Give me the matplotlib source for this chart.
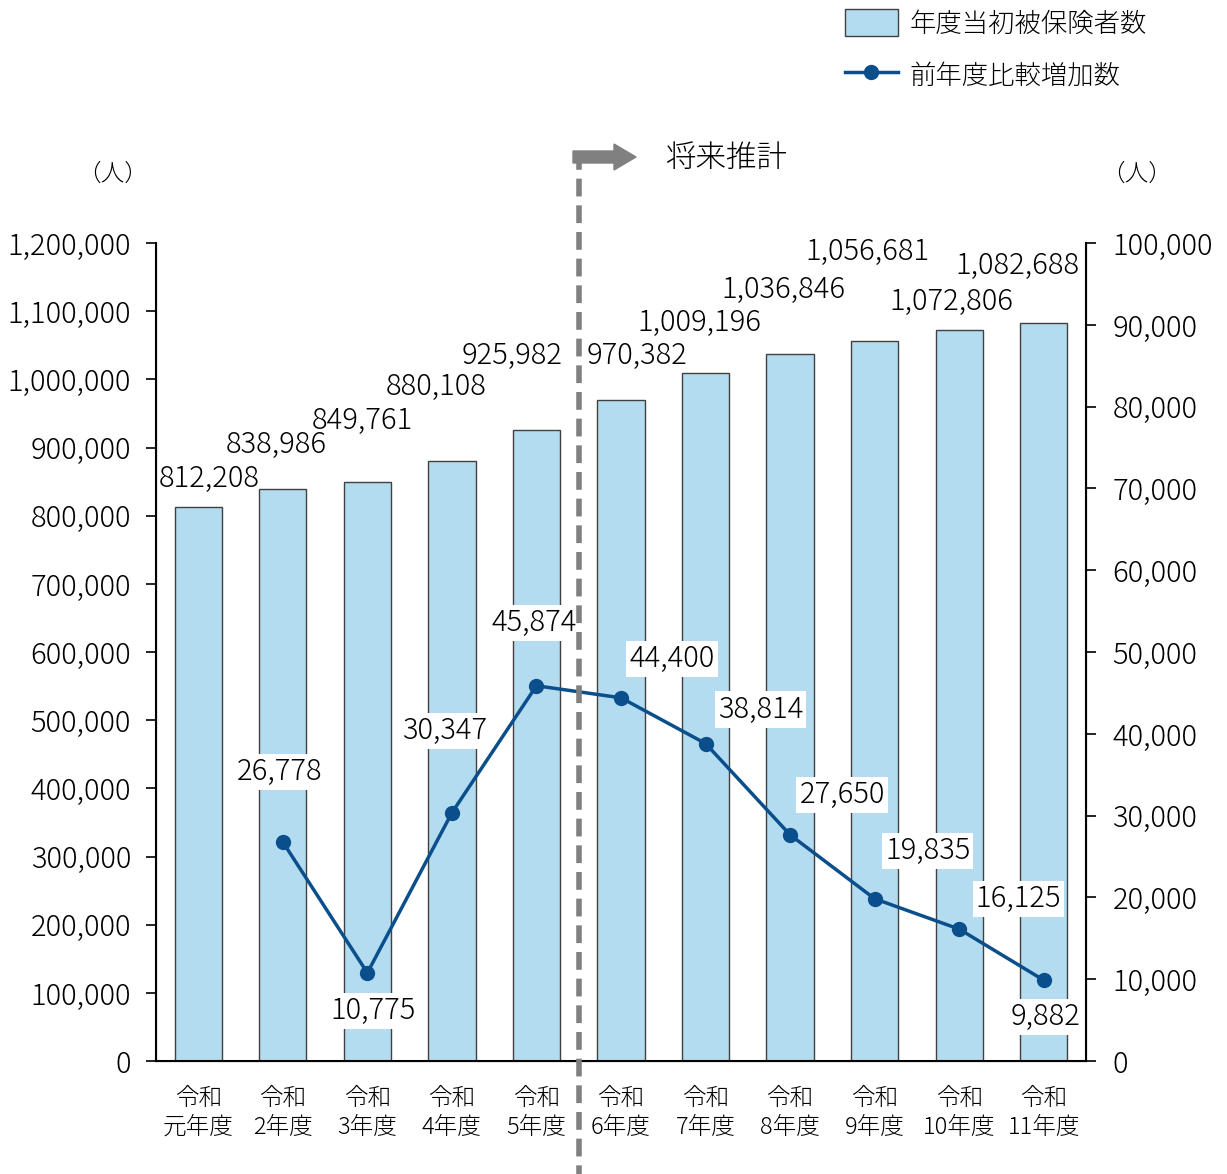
import matplotlib
matplotlib.use('Agg')
import matplotlib.pyplot as plt
from matplotlib.patches import FancyArrow, Patch
from matplotlib.lines import Line2D
from matplotlib.transforms import IdentityTransform

plt.rcParams['font.family'] = ['Noto Sans CJK JP', 'DejaVu Sans']
plt.rcParams['font.weight'] = 'light'

# data
years = ['令和\n元年度', '令和\n2年度', '令和\n3年度', '令和\n4年度', '令和\n5年度', '令和\n6年度',
         '令和\n7年度', '令和\n8年度', '令和\n9年度', '令和\n10年度', '令和\n11年度']
insured = [812208, 838986, 849761, 880108, 925982, 970382,
           1009196, 1036846, 1056681, 1072806, 1082688]
increase = [None, 26778, 10775, 30347, 45874, 44400, 38814, 27650, 19835, 16125, 9882]

# label offsets in pixels (hand placed like the original)
bar_lbl_off = [(11, 29), (-7, 44), (-5, 61), (-16, 74), (-24, 74), (16, 44),
               (-6, 50), (-7, 64), (-7, 89), (-8, 28), (-26, 57)]
line_lbl_off = [None, (-3, 70), (6, -38), (-7, 82), (-2, 63), (51, 39),
                (55, 34), (52, 40), (53, 48), (59, 30), (2, -37)]

bar_color = '#B4DCF0'
line_color = '#0A4F8C'
fs = 21

fig = plt.figure(figsize=(12.27, 11.74), dpi=100)
ax = fig.add_axes([156 / 1227, 1 - 1061 / 1174, 930 / 1227, 818 / 1174])
ax2 = ax.twinx()

x = list(range(len(years)))
ax.bar(x, insured, width=0.56, color=bar_color, edgecolor='#404040', linewidth=1.0, zorder=2)
ax.set_xlim(-0.5, len(years) - 0.5)
ax.set_ylim(0, 1200000)
ax.set_yticks(range(0, 1200001, 100000))
ax.set_yticklabels([f'{v:,}' for v in range(0, 1200001, 100000)])
ax.set_xticks(x)
ax.set_xticklabels(years, linespacing=1.2)
ax.tick_params(axis='x', length=0, pad=18, labelsize=17)
ax.tick_params(axis='y', length=7, width=1.2, direction='out', pad=11, labelsize=fs)
ax.spines['top'].set_visible(False)
for s in ['left', 'bottom']:
    ax.spines[s].set_linewidth(1.5)

for i, v in enumerate(insured):
    dx, dy = bar_lbl_off[i]
    ax.annotate(f'{v:,}', (i, v), xytext=(dx, dy), textcoords='offset pixels',
                ha='center', va='center', fontsize=fs, zorder=5)

# line
lx = [i for i, v in enumerate(increase) if v is not None]
ly = [v for v in increase if v is not None]
ax2.plot(lx, ly, color=line_color, linewidth=2.5, marker='o', markersize=10, zorder=4)
ax2.set_ylim(0, 100000)
ax2.set_yticks(range(0, 100001, 10000))
ax2.set_yticklabels([f'{v:,}' for v in range(0, 100001, 10000)])
ax2.tick_params(axis='y', length=7, width=1.2, direction='out', pad=12, labelsize=fs)
ax2.spines['top'].set_visible(False)
ax2.spines['right'].set_linewidth(1.5)
for i, v in zip(lx, ly):
    dx, dy = line_lbl_off[i]
    ax2.annotate(f'{v:,}', (i, v), xytext=(dx, dy), textcoords='offset pixels',
                 ha='center', va='center', fontsize=fs, zorder=6,
                 bbox=dict(boxstyle='square,pad=0.1', fc='white', ec='none'))

# projection divider
ax2.plot([4.5, 4.5], [1.1115, -0.14], transform=ax2.get_xaxis_transform(), clip_on=False,
         color='#808080', linewidth=4, dashes=(3.2, 1.6), zorder=7)
fig.add_artist(FancyArrow(573, 1174 - 157, 63, 0, width=12, head_width=26, head_length=22,
                          length_includes_head=True, color='#808080', transform=IdentityTransform()))
fig.text(665 / 1227, 1 - 158 / 1174, '将来推計', fontsize=22, va='center', ha='left')

fig.text(113 / 1227, 1 - 174 / 1174, '（人）', fontsize=17, ha='center', va='center')
fig.text(1137 / 1227, 1 - 174 / 1174, '（人）', fontsize=17, ha='center', va='center')

handles = [Patch(facecolor=bar_color, edgecolor='#404040', linewidth=1.0),
           Line2D([], [], color=line_color, linewidth=2.5, marker='o', markersize=10)]
fig.legend(handles, ['年度当初被保険者数', '前年度比較増加数'], loc='upper left',
           bbox_to_anchor=(845 / 1227, 1 - 9 / 1174), frameon=False, fontsize=19,
           borderpad=0, borderaxespad=0,
           handlelength=2.0, handleheight=1.2, labelspacing=0.9, handletextpad=0.45)

fig.savefig('out.png', dpi=100)
